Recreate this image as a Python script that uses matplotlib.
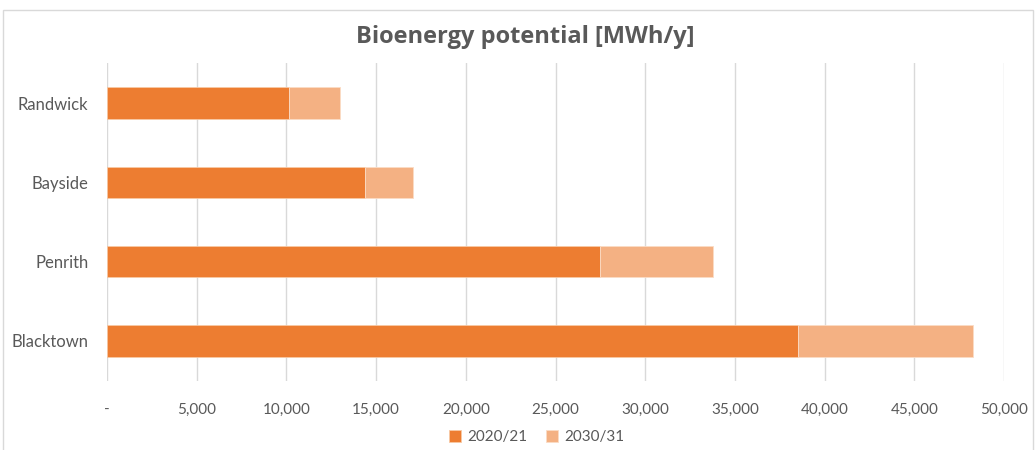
import matplotlib.pyplot as plt
from matplotlib.patches import Rectangle
from matplotlib.ticker import FuncFormatter

# data
councils = ["Blacktown", "Penrith", "Bayside", "Randwick"]
potential_2020 = [38500, 27480, 14400, 10140]
extra_2030 = [9800, 6320, 2680, 2850]   # added on top to reach 2030/31

dark_orange = "#ED7D31"
light_orange = "#F4B183"
text_grey = "#595959"

fig = plt.figure(figsize=(10.36, 4.5), dpi=100)
ax = fig.add_axes([0.1033, 0.1544, 0.8658, 0.7045])

# chart border
fig.patches.append(Rectangle((0.003, -0.02), 0.994, 0.998, transform=fig.transFigure,
                             fill=False, edgecolor="#D9D9D9", linewidth=1))

y = range(len(councils))
ax.barh(y, potential_2020, height=0.4, color=dark_orange, edgecolor="#F8C9A5",
        linewidth=0.6, label="2020/21", zorder=3)
ax.barh(y, extra_2030, left=potential_2020, height=0.4, color=light_orange,
        edgecolor="#FBDCC5", linewidth=0.6, label="2030/31", zorder=3)

ax.set_xlim(0, 50000)
ax.set_ylim(-0.5, 3.5)
ax.set_xticks(range(0, 50001, 5000))
ax.xaxis.set_major_formatter(FuncFormatter(lambda v, p: "-" if v == 0 else f"{int(v):,}"))
ax.set_yticks(list(y))
ax.set_yticklabels(councils)

ax.grid(axis="x", color="#D9D9D9", linewidth=1, zorder=0)
for s in ax.spines.values():
    s.set_visible(False)
ax.tick_params(axis="both", length=0, colors=text_grey, labelsize=11)
ax.tick_params(axis="x", pad=16)
ax.tick_params(axis="y", pad=13.5, labelsize=12)
for lab in ax.get_xticklabels() + ax.get_yticklabels():
    lab.set_family("Lato")

fig.text(0.507, 0.918, "Bioenergy potential [MWh/y]", ha="center", va="center",
         fontsize=17, fontweight="bold", color=text_grey, family="Open Sans")

leg = fig.legend(loc="center", bbox_to_anchor=(0.518, 0.028), ncol=2, frameon=False,
                 handlelength=0.8, handleheight=0.8, handletextpad=0.4, columnspacing=1.2,
                 prop={"family": "Lato", "size": 11})
for t in leg.get_texts():
    t.set_color(text_grey)

fig.savefig("out.png", dpi=100)
